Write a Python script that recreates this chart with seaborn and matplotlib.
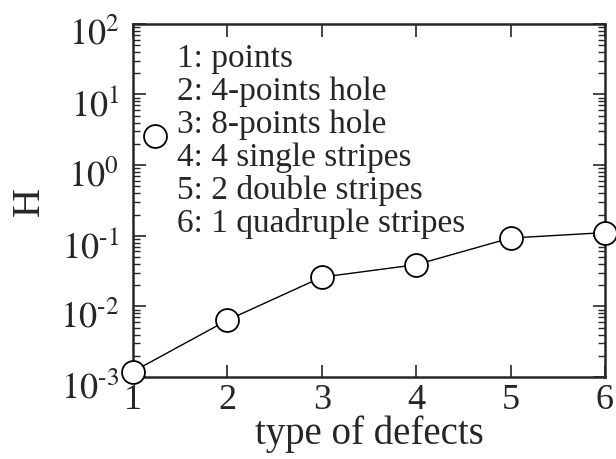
import matplotlib
matplotlib.use("Agg")
import matplotlib.pyplot as plt
import matplotlib.transforms as mtransforms
import seaborn as sns
import pandas as pd
from matplotlib.ticker import LogLocator, FixedLocator

defect_type = [1, 2, 3, 4, 5, 6]
H_values = [1.2e-3, 6.4e-3, 2.6e-2, 3.9e-2, 9.3e-2, 1.11e-1]
extra_x = [1.23]
extra_y = [2.6]
y_ticks = [1e-3, 1e-2, 1e-1, 1e0, 1e1, 1e2]
y_exponents = ["\u2010" + "3", "\u2010" + "2", "\u2010" + "1", "0", "1", "2"]
legend_lines = ["1: points", "2: 4-points hole", "3: 8-points hole",
                "4: 4 single stripes", "5: 2 double stripes", "6: 1 quadruple stripes"]

sns.set_style("ticks")
plt.rcParams['font.family'] = ['Liberation Serif', 'DejaVu Serif']
plt.rcParams['mathtext.fontset'] = 'stix'

fig = plt.figure(figsize=(6.16, 4.6), dpi=100)
ax = fig.add_axes([0.216, 0.178, 0.766, 0.768])

df = pd.DataFrame({"x": defect_type, "H": H_values})
sns.lineplot(data=df, x="x", y="H", ax=ax, color="black", linewidth=1.0,
             marker="o", markersize=16.5, markerfacecolor="white",
             markeredgecolor="black", markeredgewidth=1.3, clip_on=False, zorder=3)
ax.plot(extra_x, extra_y, linestyle="none", marker="o", markersize=16.5,
        markerfacecolor="white", markeredgecolor="black", markeredgewidth=1.3,
        clip_on=False, zorder=3)

ax.set_yscale("log")
ax.set_xlim(1, 6)
ax.set_ylim(1e-3, 1e2)
ax.xaxis.set_major_locator(FixedLocator(defect_type))
ax.set_xticklabels([str(v) for v in defect_type])
ax.yaxis.set_minor_locator(LogLocator(base=10, subs=range(2, 10), numticks=20))
ax.set_yticks(y_ticks)
ax.set_yticklabels([r"$10^{%s}$" % e for e in y_exponents])

ax.tick_params(axis="both", which="major", direction="in", length=9, width=1.2,
               labelsize=26, top=True, right=True)
ax.tick_params(axis="y", which="major", pad=10)
ax.tick_params(axis="x", which="major", pad=4)
ax.tick_params(axis="y", which="minor", direction="in", length=5, width=1.0, right=True)
ax.tick_params(axis="x", which="minor", bottom=False, top=False)
for s in ax.spines.values():
    s.set_linewidth(1.8)
    s.set_visible(True)

shift = mtransforms.ScaledTranslation(0, -5 / 72, fig.dpi_scale_trans)
for lab in ax.get_yticklabels():
    lab.set_transform(lab.get_transform() + shift)

ax.set_xlabel("type of defects", fontsize=28)
ax.set_ylabel("H", fontsize=29)
ax.xaxis.set_label_coords(0.5, -0.105)
ax.yaxis.set_label_coords(-0.18, 0.5)

ax.text(0.093, 0.947, "\n".join(legend_lines), transform=ax.transAxes,
        fontsize=24, va="top", ha="left", linespacing=1.1)

fig.savefig("out.png", dpi=100)
